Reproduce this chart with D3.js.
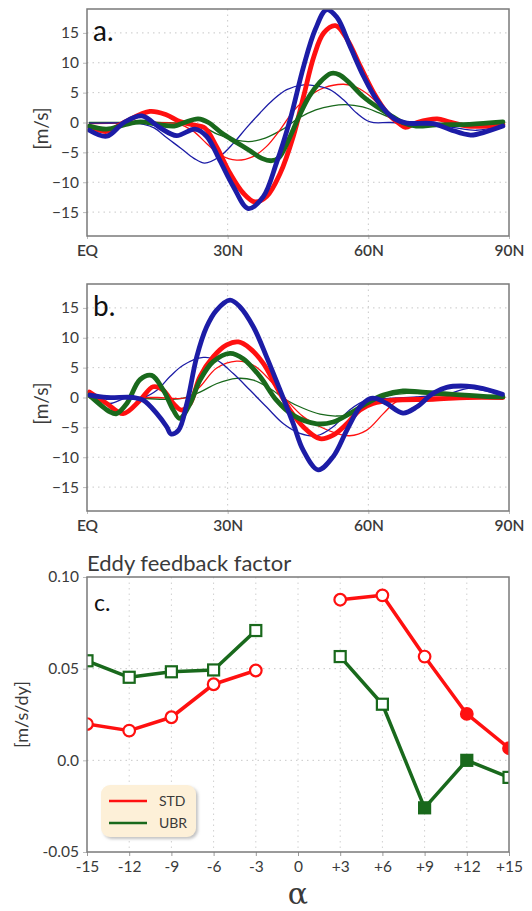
<!DOCTYPE html>
<html>
<head>
<meta charset="utf-8">
<script src="https://cdn.jsdelivr.net/npm/d3@7/dist/d3.min.js"></script>
<style>
html,body{margin:0;padding:0;background:#fff;}
svg{display:block;font-family:Lato,"Open Sans",sans-serif;}
</style>
</head>
<body>
<svg id="chart" width="532" height="911"></svg>
<script>
// ---------- DATA ----------
const latTicks = [0, 30, 60, 90];
const latTickLabels = ["EQ", "30N", "60N", "90N"];
const windTicks = [-15, -10, -5, 0, 5, 10, 15];

// Panel a: [lat, value]
const aThickRed = [[0.5,-0.7],[4.2,-1.5],[7.9,0],[13.4,1.85],[16.9,1.3],[19.8,0.15],[22.6,-0.4],[25.1,-0.9],[27.6,-4],[30.5,-8.5],[33.3,-11.8],[35.8,-13.3],[38.3,-12.4],[41.2,-8.5],[44,-2.3],[46.2,4.4],[48.4,11.1],[50.5,15],[53,16.2],[55.5,13.9],[58.3,9.4],[61.2,4.9],[64,1.6],[66.8,-0.3],[67.9,-0.8],[70.4,0],[74.7,0.6],[77.2,0.1],[81.1,-0.6],[85.4,-0.6],[88.7,-0.3]];
const aThickBlue = [[0.5,-1.3],[4.2,-2.3],[7.9,0],[11.7,1.1],[15.6,-0.9],[19.1,-2.2],[23,-1.1],[25.5,-2.3],[28.3,-6.3],[31.2,-10.7],[34.4,-14.4],[37.6,-12.4],[40.4,-6.8],[43.3,0.45],[46.2,9.4],[48.7,15.6],[51.1,18.9],[53.3,17.6],[56.1,12.75],[59,7.7],[61.8,3.8],[65.4,0.7],[68.2,-0.1],[73.9,-0.2],[77.5,-1.2],[81.8,-2.1],[85.3,-1.5],[88.7,-0.6]];
const aThickGreen = [[0.5,-0.6],[4.2,-1.1],[7.9,-0.4],[11.4,0.1],[15,-0.3],[18.6,-0.6],[20.8,0],[23.7,0.6],[25.9,0],[28.8,-1.8],[31.6,-3.2],[34.5,-4.6],[37.3,-6],[39.4,-6.4],[40.9,-5.9],[43,-2.9],[45.2,1],[47.4,4.4],[49.5,6.6],[52,8.2],[53.8,8],[56,6.6],[58.8,4.4],[61.7,2.7],[64.5,1.3],[67.3,0],[70.2,-0.6],[74.5,-0.4],[81.6,-0.3],[88.7,0.1]];
const aThinRed = [[0.5,-0.2],[8,-0.1],[15,0],[19.8,-0.3],[22.6,-1.4],[25.5,-3.5],[28.3,-5.4],[31.9,-6.3],[35.4,-5.7],[38.3,-4],[41.2,-1.2],[44,1.9],[47,4.2],[50.5,5.8],[54.7,6.4],[57.5,5.9],[60.4,4.4],[63.3,2.1],[66.1,0.45],[69,-0.2],[75,-0.3],[82,-0.4],[88.7,-0.2]];
const aThinBlue = [[0.5,-0.1],[2.8,-0.1],[9.9,-0.1],[12.1,-0.3],[14.3,-0.9],[17.1,-2.6],[20,-4.3],[22.8,-6],[25.1,-6.8],[28.3,-5.7],[31.2,-3.5],[34,-0.9],[36.9,1.6],[39.7,3.8],[42.6,5.5],[46.2,6.3],[49,6.1],[51.8,5.5],[54.7,3.8],[57.5,1.6],[60.4,0.1],[64.7,0],[72,-0.2],[78,-0.8],[83,-1.3],[88.7,-0.5]];
const aThinGreen = [[0.5,0],[10,0],[20,-0.1],[24.4,-0.6],[27.9,-2],[31.6,-2.9],[34.5,-3.2],[38,-2.6],[41.6,-1.2],[45.2,0.75],[48.8,2.1],[52.3,2.8],[55.1,3],[58.8,2.6],[62.3,1.6],[65.8,0.45],[68.5,0],[75,-0.3],[82,-0.3],[88.7,-0.1]];

// Panel b: [lat, value]
const bThickRed = [[0.5,0.9],[4.2,-1],[7.7,-2.7],[11.3,-0.45],[14.1,1.8],[16.3,1.2],[18.4,-1],[20.2,-2.1],[22,-1],[24.1,3.5],[26.9,6.8],[29.8,8.8],[32.3,9.3],[34.8,8.2],[37.6,5.7],[40.4,1.8],[43.3,-2.1],[46.1,-4.9],[49.7,-6.9],[52.5,-6.3],[55.4,-4.4],[58.2,-2.1],[61,-1],[65.3,-0.45],[73.8,-0.3],[81,0],[88.7,0]];
const bThickBlue = [[0.6,0.4],[4.2,0],[9.9,0],[12,-0.45],[14.9,-2.7],[17,-4.9],[17.9,-6.1],[19.5,-5.5],[21.3,-1],[23.4,6.8],[25.5,11.8],[27.6,14.6],[30.5,16.3],[32.6,15.2],[35.5,11.8],[38.3,6.8],[41.2,1.2],[44,-4.4],[46.1,-8.8],[49.3,-12.1],[52.5,-9.9],[55.4,-5.5],[58.2,-1.6],[60.3,-0.2],[61.8,-0.2],[63.9,-1],[67.4,-2.6],[70.3,-1.6],[73.8,0.7],[76.7,1.7],[81,1.9],[84.5,1.5],[88.6,0.55]];
const bThickGreen = [[0.5,0.4],[4.9,-2.4],[6.3,-2.7],[8.5,-1],[11.3,3],[13.8,3.7],[16.3,1.2],[18.4,-2.1],[19.8,-3.5],[22,-1],[24.1,2.9],[26.9,6],[30.5,7.4],[33.3,6.5],[36.9,3.5],[40.4,-0.45],[44,-3],[49,-4.4],[52.5,-4.1],[56,-2.7],[59.6,-1],[63.2,0.4],[67.4,1.1],[71,0.95],[77.4,0.55],[84.5,0.2],[88.7,0.1]];
const bThinRed = [[0.5,0],[8,0],[15,0],[21.3,0],[24.1,1.8],[27.6,4.9],[31.9,6.1],[35.5,5.4],[39,2.9],[42.6,-0.45],[46.1,-3.2],[49.7,-4.9],[53.2,-6],[56,-6.4],[59.6,-5.5],[63.2,-2.7],[66,-0.7],[70.3,0],[80,0],[88.7,0]];
const bThinBlue = [[0.5,0.1],[4.9,-1],[8.5,0],[12,0],[14.9,1.2],[17.7,3.5],[20.5,5.4],[24.8,6.7],[27.6,6.3],[31.2,4],[34.8,1.2],[38.3,-1.6],[41.9,-4.4],[45.4,-6],[49,-6.4],[52.5,-4.9],[56,-2.1],[59.6,-0.45],[63.2,-0.2],[70.3,0.1],[77.4,0.7],[81,1.5],[84.5,1.2],[88.7,0.4]];
const bThinGreen = [[0.5,0],[10,-0.1],[20,-0.2],[24.1,0.9],[27.6,2.3],[31.9,3.2],[35.5,2.9],[39,1.5],[42.6,-0.45],[46.1,-1.8],[49.7,-2.8],[53.2,-3.1],[56.8,-2.7],[60.3,-1],[63.9,0.2],[68.2,0.7],[73.8,0.5],[80,0.3],[88.7,0.2]];

// Panel c
const alphaTicks = [-15, -12, -9, -6, -3, 0, 3, 6, 9, 12, 15];
const alphaTickLabels = ["-15", "-12", "-9", "-6", "-3", "0", "+3", "+6", "+9", "+12", "+15"];
const effTicks = [-0.05, 0.0, 0.05, 0.10];
const effTickLabels = ["-0.05", "0.0", "0.05", "0.10"];
const alphaNeg = [-15, -12, -9, -6, -3];
const alphaPos = [3, 6, 9, 12, 15];
const stdNeg = [0.0198, 0.0162, 0.0235, 0.0415, 0.049];
const stdPos = [0.0876, 0.090, 0.0566, 0.0253, 0.0066];
const stdPosFilled = [false, false, false, true, true];
const ubrNeg = [0.0543, 0.0453, 0.0483, 0.0493, 0.0708];
const ubrPos = [0.0566, 0.0306, -0.0259, 0.0, -0.0093];
const ubrPosFilled = [false, false, true, true, false];
const legendNames = ["STD", "UBR"];

// ---------- STYLE ----------
const RED = "#ff1010", BLUE = "#1c1ca6", GREEN = "#19691c";
const FRAME = "#7a7a7a", TXT = "#3a3a3a";
const FS = 15.5;
const svg = d3.select("#chart");
const L = 87, R = 509;

function windPanel(top, bottom, label, series, clipId) {
  const x = d3.scaleLinear().domain([0, 90]).range([L, R]);
  const y = d3.scaleLinear().domain([-19, 19]).range([bottom, top]);
  const g = svg.append("g");
  g.append("clipPath").attr("id", clipId).append("rect")
    .attr("x", L).attr("y", top).attr("width", R - L).attr("height", bottom - top);
  // grid
  g.selectAll(".hg").data(windTicks).join("line")
    .attr("x1", L).attr("x2", R).attr("y1", d => y(d)).attr("y2", d => y(d))
    .attr("stroke", "#c8c8c8").attr("stroke-width", 1).attr("stroke-dasharray", "1.5,4");
  g.selectAll(".vg").data(latTicks.slice(1, 3)).join("line")
    .attr("y1", top).attr("y2", bottom).attr("x1", d => x(d)).attr("x2", d => x(d))
    .attr("stroke", "#c8c8c8").attr("stroke-width", 1).attr("stroke-dasharray", "1.5,4");
  // axes
  const ya = d3.axisLeft(y).tickValues(windTicks).tickSize(4).tickPadding(4).tickFormat(d3.format("d"));
  const ga = g.append("g").attr("transform", `translate(${L},0)`).call(ya);
  ga.select(".domain").remove();
  ga.selectAll("line").attr("stroke", "#bbb");
  ga.selectAll("text").attr("font-size", FS).attr("fill", TXT).attr("font-family", "Lato,'Open Sans',sans-serif");
  const xa = d3.axisBottom(x).tickValues(latTicks).tickFormat((d, i) => latTickLabels[i]).tickSize(3).tickPadding(6);
  const gx = g.append("g").attr("transform", `translate(0,${bottom})`).call(xa);
  gx.select(".domain").remove();
  gx.selectAll("line").attr("stroke", "#bbb");
  gx.selectAll("text").attr("font-size", FS).attr("fill", TXT).attr("font-weight", 600).attr("font-family", "Lato,'Open Sans',sans-serif");
  // y label
  g.append("text").attr("transform", `translate(48,${y(0) + 6}) rotate(-90)`)
    .attr("text-anchor", "middle").attr("font-size", 19).attr("fill", TXT).text("[m/s]");
  // lines
  const line = d3.line().x(d => x(d[0])).y(d => y(d[1])).curve(d3.curveCatmullRom.alpha(0.5));
  const lg = g.append("g").attr("clip-path", `url(#${clipId})`);
  series.forEach(s => {
    lg.append("path").datum(s.data).attr("d", line).attr("fill", "none")
      .attr("stroke", s.color).attr("stroke-width", s.w).attr("stroke-linejoin", "round").attr("stroke-linecap", "round");
  });
  // frame
  g.append("rect").attr("x", L).attr("y", top).attr("width", R - L).attr("height", bottom - top)
    .attr("fill", "none").attr("stroke", FRAME).attr("stroke-width", 1.5);
  g.append("text").attr("x", 93).attr("y", y(15) + 8).attr("font-size", 28).attr("fill", "#111").text(label);
}

windPanel(9, 236, "a.", [
  {data: aThinGreen, color: GREEN, w: 1.3},
  {data: aThinRed, color: RED, w: 1.3},
  {data: aThinBlue, color: BLUE, w: 1.3},
  {data: aThickRed, color: RED, w: 4.8},
  {data: aThickGreen, color: GREEN, w: 4.8},
  {data: aThickBlue, color: BLUE, w: 4.8}
], "clipA");

windPanel(284, 511, "b.", [
  {data: bThinGreen, color: GREEN, w: 1.3},
  {data: bThinRed, color: RED, w: 1.3},
  {data: bThinBlue, color: BLUE, w: 1.3},
  {data: bThickRed, color: RED, w: 4.8},
  {data: bThickGreen, color: GREEN, w: 4.8},
  {data: bThickBlue, color: BLUE, w: 4.8}
], "clipB");

// ---------- Panel c ----------
(function () {
  const top = 577, bottom = 852;
  const x = d3.scaleLinear().domain([-15, 15]).range([L, R]);
  const y = d3.scaleLinear().domain([-0.05, 0.10]).range([bottom, top]);
  const g = svg.append("g");
  g.append("clipPath").attr("id", "clipC").append("rect")
    .attr("x", L).attr("y", top).attr("width", R - L).attr("height", bottom - top);
  g.selectAll(".hg").data([0.0, 0.05]).join("line")
    .attr("x1", L).attr("x2", R).attr("y1", d => y(d)).attr("y2", d => y(d))
    .attr("stroke", "#c8c8c8").attr("stroke-width", 1).attr("stroke-dasharray", "1.5,4");
  g.selectAll(".vg").data(alphaTicks.slice(1, -1)).join("line")
    .attr("y1", top).attr("y2", bottom).attr("x1", d => x(d)).attr("x2", d => x(d))
    .attr("stroke", "#d0d0d0").attr("stroke-width", 1).attr("stroke-dasharray", "1.5,4");
  const ya = d3.axisLeft(y).tickValues(effTicks).tickFormat((d, i) => effTickLabels[i]).tickSize(4).tickPadding(4);
  const ga = g.append("g").attr("transform", `translate(${L},0)`).call(ya);
  ga.select(".domain").remove();
  ga.selectAll("line").attr("stroke", "#bbb");
  ga.selectAll("text").attr("font-size", FS).attr("fill", TXT).attr("font-family", "Lato,'Open Sans',sans-serif");
  const xa = d3.axisBottom(x).tickValues(alphaTicks).tickFormat((d, i) => alphaTickLabels[i]).tickSize(4).tickPadding(5);
  const gx = g.append("g").attr("transform", `translate(0,${bottom})`).call(xa);
  gx.select(".domain").remove();
  gx.selectAll("line").attr("stroke", "#999");
  gx.selectAll("text").attr("font-size", FS).attr("fill", TXT).attr("font-family", "Lato,'Open Sans',sans-serif");
  g.append("text").attr("x", x(0)).attr("y", 904).attr("text-anchor", "middle")
    .attr("font-size", 30).attr("fill", TXT).attr("font-family", "'DejaVu Serif',serif").text("α");
  g.append("text").attr("transform", `translate(28,${y(0.025)}) rotate(-90)`)
    .attr("text-anchor", "middle").attr("font-size", 18).attr("fill", TXT).text("[m/s/dy]");
  g.append("text").attr("x", L).attr("y", 571).attr("font-size", 22).attr("fill", TXT).text("Eddy feedback factor");

  const line = d3.line().x(d => x(d.a)).y(d => y(d.v));
  const pg = g.append("g").attr("clip-path", "url(#clipC)");
  const mk = (as, vs, fl) => as.map((a, i) => ({a, v: vs[i], f: fl ? fl[i] : false}));
  const segs = [
    {d: mk(alphaNeg, ubrNeg), c: GREEN, shape: "sq"},
    {d: mk(alphaPos, ubrPos, ubrPosFilled), c: GREEN, shape: "sq"},
    {d: mk(alphaNeg, stdNeg), c: RED, shape: "ci"},
    {d: mk(alphaPos, stdPos, stdPosFilled), c: RED, shape: "ci"}
  ];
  segs.forEach(s => {
    pg.append("path").datum(s.d).attr("d", line).attr("fill", "none")
      .attr("stroke", s.c).attr("stroke-width", 3.5).attr("stroke-linejoin", "round");
  });
  segs.forEach(s => {
    if (s.shape === "ci") {
      pg.selectAll(null).data(s.d).join("circle")
        .attr("cx", d => x(d.a)).attr("cy", d => y(d.v)).attr("r", 5.8)
        .attr("fill", d => d.f ? s.c : "#fff").attr("stroke", s.c).attr("stroke-width", 2.2);
    } else {
      pg.selectAll(null).data(s.d).join("rect")
        .attr("x", d => x(d.a) - 5.5).attr("y", d => y(d.v) - 5.5).attr("width", 11).attr("height", 11)
        .attr("fill", d => d.f ? s.c : "#fff").attr("stroke", s.c).attr("stroke-width", 2.2);
    }
  });
  g.append("rect").attr("x", L).attr("y", top).attr("width", R - L).attr("height", bottom - top)
    .attr("fill", "none").attr("stroke", FRAME).attr("stroke-width", 1.5);
  g.append("text").attr("x", 94).attr("y", 611).attr("font-size", 23).attr("fill", "#111").text("c.");

  // legend
  const defs = svg.append("defs");
  const f = defs.append("filter").attr("id", "sh").attr("x", "-20%").attr("y", "-20%").attr("width", "150%").attr("height", "160%");
  f.append("feDropShadow").attr("dx", 2).attr("dy", 2).attr("stdDeviation", 1.5).attr("flood-color", "#999").attr("flood-opacity", 0.6);
  const lgd = g.append("g");
  lgd.append("rect").attr("x", 101).attr("y", 785).attr("width", 95).attr("height", 52).attr("rx", 9)
    .attr("fill", "#fdf0d8").attr("filter", "url(#sh)");
  [RED, GREEN].forEach((c, i) => {
    const yy = 801 + i * 22;
    lgd.append("line").attr("x1", 109).attr("x2", 147).attr("y1", yy).attr("y2", yy)
      .attr("stroke", c).attr("stroke-width", 2.5);
    lgd.append("text").attr("x", 159).attr("y", yy + 5).attr("font-size", 14).attr("fill", TXT).text(legendNames[i]);
  });
})();
</script>
</body>
</html>
